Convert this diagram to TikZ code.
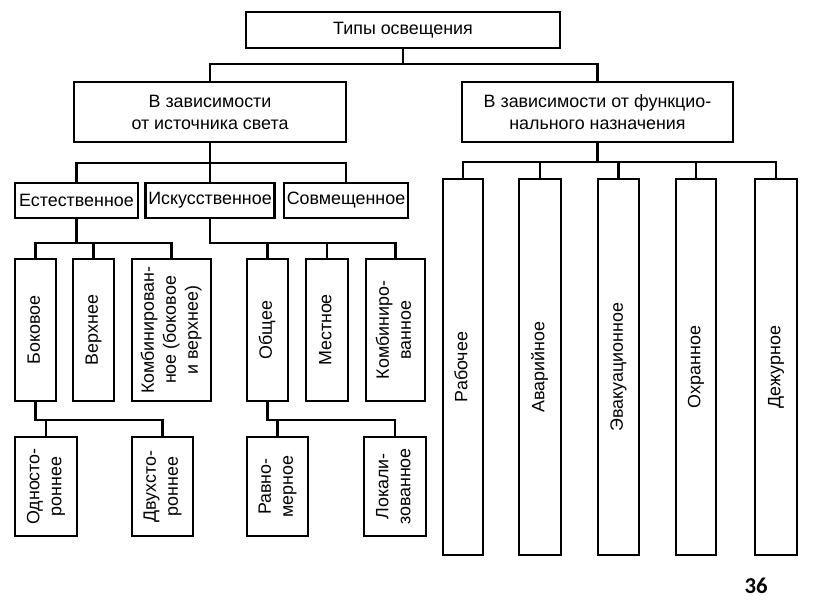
\documentclass[tikz,border=0pt]{standalone}
\usepackage{fontspec}
\setmainfont{Liberation Sans}
\newfontfamily\pagefont{Carlito}
\newcommand{\vtext}[1]{\rotatebox{90}{\begin{tabular}{@{}c@{}}#1\end{tabular}}}

\begin{document}
\begin{tikzpicture}[x=0.75pt, y=-0.75pt, line width=1.6pt,
  every node/.style={font=\fontsize{13.4}{16.5}\selectfont},
  cell/.style={draw, inner sep=2pt, align=center},
  rowthree/.style={cell, minimum height=26.25pt},
  rowfour/.style={cell, minimum height=106.5pt},
  rowfive/.style={cell, minimum height=74.25pt},
  tall/.style={cell, minimum height=282pt}]
  \fill[white] (0,0) rectangle (816,613);
  % Root
  \node[cell,minimum width=235.5pt,minimum height=27pt] (types) at (403,30) {Типы освещения};
  % Two criteria
  \node[cell,minimum width=204pt,minimum height=45pt] (source) at (210,112) {В зависимости\\от источника света};
  \node[cell,minimum width=203.25pt,minimum height=45pt] (purpose) at (597.5,112) {В зависимости от функцио-\\нального назначения};
  % By light source
  \node[rowthree,minimum width=92.25pt] (natural) at (76.5,200.5) {Естественное};
  \node[rowthree,minimum width=96.75pt] (artificial) at (210,200.5) {Искусственное};
  \node[rowthree,minimum width=93pt] (mixed) at (346,200.5) {Совмещенное};
  % Natural / artificial kinds
  \node[rowfour,minimum width=30.75pt] (side) at (35.5,330) {\vtext{Боковое}};
  \node[rowfour,minimum width=30.75pt] (upper) at (93.5,330) {\vtext{Верхнее}};
  \node[rowfour,minimum width=59.25pt] (combnat) at (171.5,330) {\vtext{Комбинирован-\\ное (боковое\\и верхнее)}};
  \node[rowfour,minimum width=30.75pt] (general) at (267.5,330) {\vtext{Общее}};
  \node[rowfour,minimum width=31.5pt] (localart) at (327,330) {\vtext{Местное}};
  \node[rowfour,minimum width=44.25pt] (combart) at (395.5,330) {\vtext{Комбиниро-\\ванное}};
  % Lowest level
  \node[rowfive,minimum width=46.5pt] (oneside) at (46,486.5) {\vtext{Односто-\\роннее}};
  \node[rowfive,minimum width=45.75pt] (twoside) at (162.5,486.5) {\vtext{Двухсто-\\роннее}};
  \node[rowfive,minimum width=45.75pt] (uniform) at (277.5,486.5) {\vtext{Равно-\\мерное}};
  \node[rowfive,minimum width=46.5pt] (localized) at (395,486.5) {\vtext{Локали-\\зованное}};
  % By purpose
  \node[tall,minimum width=30pt] (working) at (463,367) {\vtext{Рабочее}};
  \node[tall,minimum width=31.5pt] (emergency) at (540,367) {\vtext{Аварийное}};
  \node[tall,minimum width=30.75pt] (evacuation) at (618.5,367) {\vtext{Эвакуационное}};
  \node[tall,minimum width=30pt] (security) at (696,367) {\vtext{Охранное}};
  \node[tall,minimum width=31.5pt] (standby) at (776,367) {\vtext{Дежурное}};
  % Page number
  \node[font=\pagefont\bfseries\fontsize{17}{20}\selectfont] (pagenum) at (756,586) {36};
  % Tree lines
  \foreach \c in {source,purpose} \draw (types.south) -- ++(0,15) -| (\c.north);
  \foreach \c in {natural,artificial,mixed} \draw (source.south) -- ++(0,20) -| (\c.north);
  \foreach \c in {working,emergency,evacuation,security,standby} \draw (purpose.south) -- ++(0,19) -| (\c.north);
  \foreach \c in {side,upper,combnat} \draw (natural.south) -- ++(0,24) -| (\c.north);
  \foreach \c in {general,localart,combart} \draw (artificial.south) -- ++(0,24) -| (\c.north);
  \foreach \c in {oneside,twoside} \draw (side.south) -- ++(0,18) -| (\c.north);
  \foreach \c in {uniform,localized} \draw (general.south) -- ++(0,18) -| (\c.north);
\end{tikzpicture}
\end{document}
